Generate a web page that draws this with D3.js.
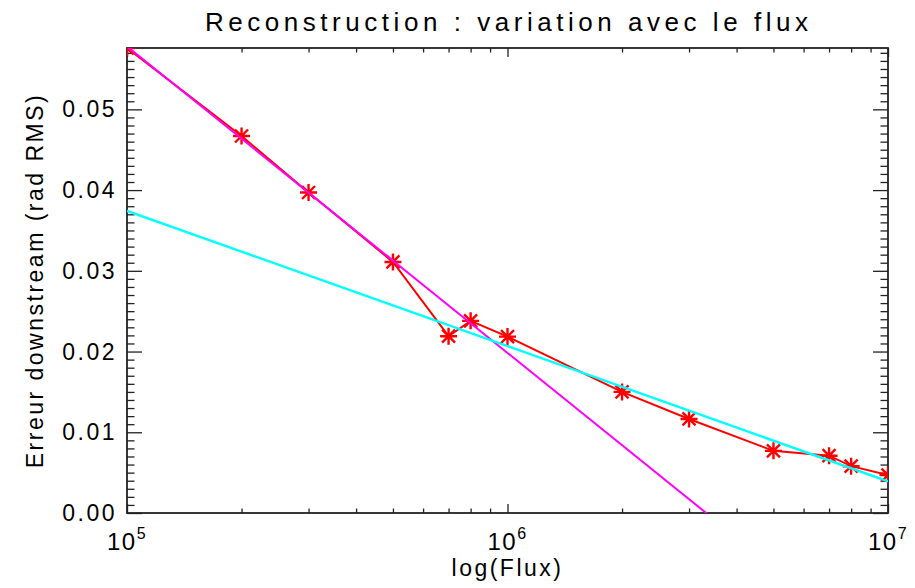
<!DOCTYPE html>
<html>
<head>
    <meta charset="utf-8">
    <title>Reconstruction : variation avec le flux</title>
    <style>
        body { margin: 0; background: #fff; }
        svg { display: block; }
        text { font-family: "Liberation Sans", Arial, sans-serif; fill: #000; }
    </style>
</head>
<body>
<svg id="chart"></svg>
<script src="https://d3js.org/d3.v7.min.js"></script>
<script type="text/javascript">
// flux values and measured error (rad RMS)
const flux = [1e5, 2e5, 3e5, 5e5, 7e5, 8e5, 1e6, 2e6, 3e6, 5e6, 7e6, 8e6, 1e7];
const erreur = [0.0576, 0.0467, 0.0397, 0.0311, 0.0219, 0.0238, 0.02185,
                0.0150, 0.01165, 0.0077, 0.0071, 0.0058, 0.0047];

// indices of the points used for each linear fit (error vs log10 flux)
const fitLow = [0, 1, 2, 3];
const fitHigh = [4, 5, 6, 7, 8, 9, 10, 11, 12];

const xTicks = [1e5, 1e6, 1e7];
const yTicks = [0, 0.01, 0.02, 0.03, 0.04, 0.05];

const width = 915;
const height = 588;
const margin = {top: 48, right: 27, bottom: 75, left: 127};
const iw = width - margin.left - margin.right;
const ih = height - margin.top - margin.bottom;

const svg = d3.select("#chart")
    .attr("width", width)
    .attr("height", height);

const x = d3.scaleLog().domain([1e5, 1e7]).range([0, iw]);
const y = d3.scaleLinear().domain([0, 0.0576]).range([ih, 0]);

const g = svg.append("g")
    .attr("transform", `translate(${margin.left},${margin.top})`);

g.append("clipPath").attr("id", "clip")
    .append("rect").attr("width", iw).attr("height", ih);

// least squares fit of err = a + b*log10(flux)
function fit(idx) {
    const xs = idx.map(i => Math.log10(flux[i]));
    const ys = idx.map(i => erreur[i]);
    const mx = d3.mean(xs), my = d3.mean(ys);
    const b = d3.sum(xs, (v, k) => (v - mx) * (ys[k] - my)) / d3.sum(xs, v => (v - mx) * (v - mx));
    return f => my + b * (Math.log10(f) - mx);
}

// minor ticks
const xMinor = [];
for (let d = 1e5; d < 1e7; d *= 10)
    for (let k = 2; k <= 9; k++) xMinor.push(d * k);
const yMinor = d3.range(0, 58).map(i => i / 1000).filter(v => Math.round(v * 1000) % 10 != 0);

function styleAxis(sel) {
    sel.select(".domain").remove();
    sel.selectAll(".tick line").attr("stroke", "#222").attr("stroke-width", 1.3);
    sel.selectAll(".tick text").remove();
}

const majX = 9, minX = 4.5, majY = 15, minY = 7.5;

g.append("g").attr("transform", `translate(0,${ih})`)
    .call(d3.axisBottom(x).tickValues(xTicks).tickSize(-majX)).call(styleAxis);
g.append("g").attr("transform", `translate(0,${ih})`)
    .call(d3.axisBottom(x).tickValues(xMinor).tickSize(-minX)).call(styleAxis);
g.append("g")
    .call(d3.axisTop(x).tickValues(xTicks).tickSize(-majX)).call(styleAxis);
g.append("g")
    .call(d3.axisTop(x).tickValues(xMinor).tickSize(-minX)).call(styleAxis);
g.append("g")
    .call(d3.axisLeft(y).tickValues(yTicks).tickSize(-majY)).call(styleAxis);
g.append("g")
    .call(d3.axisLeft(y).tickValues(yMinor).tickSize(-minY)).call(styleAxis);
g.append("g").attr("transform", `translate(${iw},0)`)
    .call(d3.axisRight(y).tickValues(yTicks).tickSize(-majY)).call(styleAxis);
g.append("g").attr("transform", `translate(${iw},0)`)
    .call(d3.axisRight(y).tickValues(yMinor).tickSize(-minY)).call(styleAxis);

// frame
g.append("rect")
    .attr("width", iw).attr("height", ih)
    .attr("fill", "none").attr("stroke", "#222").attr("stroke-width", 1.8);

// tick labels
g.selectAll(".xlab").data(xTicks).join("text")
    .attr("class", "xlab")
    .attr("x", d => x(d))
    .attr("y", ih + 37)
    .attr("text-anchor", "middle")
    .style("font-size", "24px")
    .style("letter-spacing", "1.5px")
    .each(function(d) {
        const t = d3.select(this);
        t.append("tspan").text("10");
        t.append("tspan").attr("dy", -11).style("font-size", "16px").text(Math.round(Math.log10(d)));
    });

g.selectAll(".ylab").data(yTicks).join("text")
    .attr("class", "ylab")
    .attr("x", -10)
    .attr("y", d => y(d) + 8)
    .attr("text-anchor", "end")
    .style("font-size", "23px")
    .style("letter-spacing", "2.5px")
    .text(d => d3.format(".2f")(d));

// titles
svg.append("text")
    .attr("x", 205)
    .attr("y", 31)
    .attr("textLength", 603)
    .attr("lengthAdjust", "spacing")
    .style("font-size", "26px")
    .text("Reconstruction : variation avec le flux");

svg.append("text")
    .attr("x", margin.left + iw / 2)
    .attr("y", 576)
    .attr("text-anchor", "middle")
    .style("font-size", "23px")
    .style("letter-spacing", "2.5px")
    .text("log(Flux)");

svg.append("text")
    .attr("transform", `translate(43,${margin.top + ih / 2}) rotate(-90)`)
    .attr("text-anchor", "middle")
    .style("font-size", "23px")
    .style("letter-spacing", "2.5px")
    .text("Erreur downstream (rad RMS)");

// data
const plot = g.append("g").attr("clip-path", "url(#clip)");
const pts = flux.map((f, i) => [f, erreur[i]]);

plot.append("path")
    .datum(pts)
    .attr("fill", "none")
    .attr("stroke", "#ff0000")
    .attr("stroke-width", 2)
    .attr("d", d3.line().x(d => x(d[0])).y(d => y(d[1])));

const r = 8.5, dg = 6.5;
plot.selectAll(".star").data(pts).join("path")
    .attr("class", "star")
    .attr("fill", "none")
    .attr("stroke", "#ff0000")
    .attr("stroke-width", 2.4)
    .attr("transform", d => `translate(${x(d[0])},${y(d[1])})`)
    .attr("d", `M${-r},0H${r}M0,${-r}V${r}M${-dg},${-dg}L${dg},${dg}M${-dg},${dg}L${dg},${-dg}`);

const fitLines = [
    {f: fit(fitLow), color: "#ff00ff", w: 2},
    {f: fit(fitHigh), color: "#00ffff", w: 2.5}
];
fitLines.forEach(l => {
    plot.append("path")
        .datum(x.domain())
        .attr("fill", "none")
        .attr("stroke", l.color)
        .attr("stroke-width", l.w)
        .attr("d", d3.line().x(d => x(d)).y(d => y(l.f(d))));
});
</script>
</body>
</html>
